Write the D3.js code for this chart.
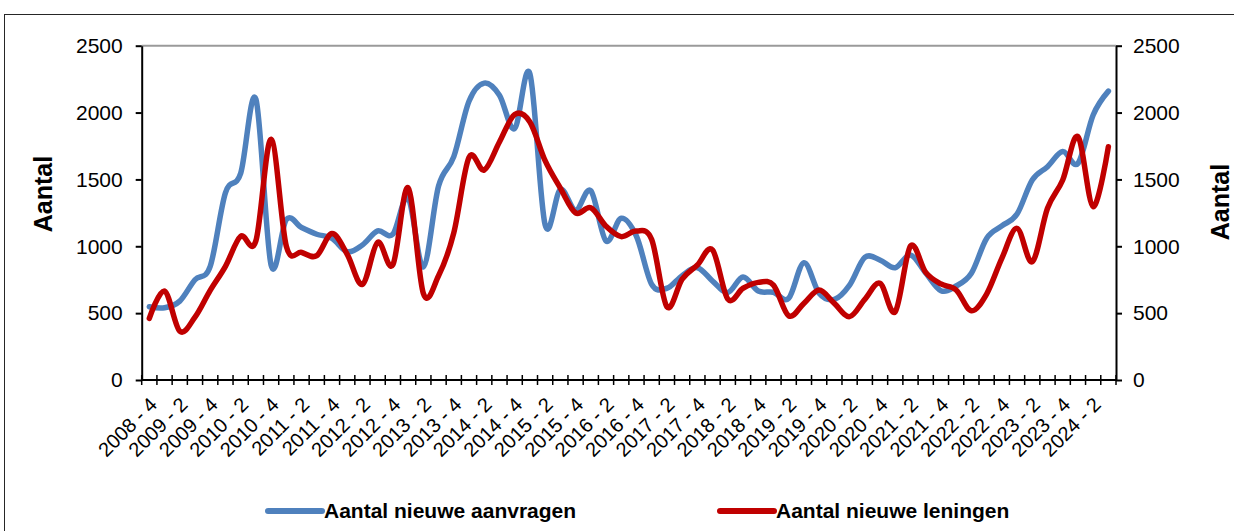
<!DOCTYPE html>
<html><head><meta charset="utf-8">
<script src="https://cdn.jsdelivr.net/npm/d3@7"></script>
<style>body{margin:0;background:#fff}svg{display:block}text{font-family:"Liberation Sans",Arial,sans-serif;fill:#000}</style>
</head><body><svg id="c" width="1234" height="531"></svg>
<script>
const categories = [
"2008 - 4",
"2009 - 1","2009 - 2","2009 - 3","2009 - 4",
"2010 - 1","2010 - 2","2010 - 3","2010 - 4",
"2011 - 1","2011 - 2","2011 - 3","2011 - 4",
"2012 - 1","2012 - 2","2012 - 3","2012 - 4",
"2013 - 1","2013 - 2","2013 - 3","2013 - 4",
"2014 - 1","2014 - 2","2014 - 3","2014 - 4",
"2015 - 1","2015 - 2","2015 - 3","2015 - 4",
"2016 - 1","2016 - 2","2016 - 3","2016 - 4",
"2017 - 1","2017 - 2","2017 - 3","2017 - 4",
"2018 - 1","2018 - 2","2018 - 3","2018 - 4",
"2019 - 1","2019 - 2","2019 - 3","2019 - 4",
"2020 - 1","2020 - 2","2020 - 3","2020 - 4",
"2021 - 1","2021 - 2","2021 - 3","2021 - 4",
"2022 - 1","2022 - 2","2022 - 3","2022 - 4",
"2023 - 1","2023 - 2","2023 - 3","2023 - 4",
"2024 - 1","2024 - 2","2024 - 3"];

const aanvragen = [548,540,590,750,850,1400,1545,2100,860,1200,1140,1090,1060,960,1010,1115,1090,1360,845,1450,1670,2085,2220,2130,1880,2290,1160,1425,1270,1415,1040,1210,1075,715,686,780,840,740,655,770,665,656,611,877,648,603,710,917,897,840,935,800,668,703,798,1059,1152,1241,1496,1595,1708,1620,1982,2160];

const leningen = [461,665,365,470,670,850,1075,1040,1800,1000,955,930,1095,940,715,1030,862,1437,648,780,1100,1665,1570,1780,1985,1930,1640,1435,1250,1288,1150,1072,1115,1050,548,755,860,972,605,686,730,710,480,573,673,573,474,603,723,511,1002,805,718,673,518,643,910,1134,885,1284,1496,1820,1296,1745];

const yTicks = [0,500,1000,1500,2000,2500];
const seriesNames = ["Aantal nieuwe aanvragen","Aantal nieuwe leningen"];
const seriesColors = ["#4F81BD","#C00000"];
const axisTitle = "Aantal";

const svg = d3.select("#c");
const m = {left:141.7, right:1116, top:45.7, bottom:380};

// outer frame
svg.append("rect").attr("x",4.5).attr("y",14.5).attr("width",1300).attr("height",600)
  .attr("fill","none").attr("stroke","#262626").attr("stroke-width",1);

const x = d3.scaleBand().domain(categories).range([m.left, m.right]);
const y = d3.scaleLinear().domain([0,2500]).range([m.bottom, m.top]);
const cx = c => x(c) + x.bandwidth()/2;

// top border line of plot area
svg.append("line").attr("x1",m.left).attr("x2",m.right).attr("y1",y(2500)).attr("y2",y(2500))
  .attr("stroke","#9a9a9a").attr("stroke-width",2);

// left axis
const fmt = d3.format("d");
const gL = svg.append("g").attr("transform",`translate(${m.left},0)`)
  .call(d3.axisLeft(y).tickValues(yTicks).tickFormat(fmt).tickSize(6).tickPadding(13).tickSizeOuter(0));
// right axis
const gR = svg.append("g").attr("transform",`translate(${m.right},0)`)
  .call(d3.axisRight(y).tickValues(yTicks).tickFormat(fmt).tickSize(6).tickPadding(11).tickSizeOuter(0));
[gL,gR].forEach(g=>{
  g.select(".domain").attr("stroke","#000").attr("stroke-width",2);
  g.selectAll(".tick line").attr("stroke","#000").attr("stroke-width",2);
  g.selectAll(".tick text").attr("font-size",21).attr("fill","#000")
    .style("font-family",'"Liberation Sans",Arial,sans-serif');
});

// x axis
const bounds = d3.range(categories.length+1);
const xb = d3.scaleLinear().domain([0,categories.length]).range([m.left,m.right]);
const gX = svg.append("g");
gX.append("line").attr("x1",m.left).attr("x2",m.right).attr("y1",m.bottom).attr("y2",m.bottom)
  .attr("stroke","#000").attr("stroke-width",2);
gX.selectAll("line.t").data(bounds).join("line").attr("class","t")
  .attr("x1",d=>xb(d)).attr("x2",d=>xb(d)).attr("y1",m.bottom-5).attr("y2",m.bottom+5)
  .attr("stroke","#000").attr("stroke-width",1.5);
gX.selectAll("text").data(categories.filter((c,i)=>i%2===0)).join("text")
  .attr("text-anchor","end").attr("font-size",20)
  .attr("transform",d=>`translate(${cx(d)+9},${m.bottom+26}) rotate(-45)`)
  .text(d=>d);

// lines
const line = d3.line().x((d,i)=>cx(categories[i])).y(d=>y(d)).curve(d3.curveCardinal.tension(0));
[aanvragen, leningen].forEach((s,k)=>{
  svg.append("path").datum(s).attr("d",line).attr("fill","none")
    .attr("stroke",seriesColors[k]).attr("stroke-width",5.5)
    .attr("stroke-linejoin","round").attr("stroke-linecap","round");
});

// axis titles
svg.append("text").attr("transform","translate(52,194) rotate(-90)").attr("text-anchor","middle")
  .attr("font-size",25).attr("font-weight","bold").text(axisTitle);
svg.append("text").attr("transform","translate(1229,202) rotate(-90)").attr("text-anchor","middle")
  .attr("font-size",25).attr("font-weight","bold").text(axisTitle);

// legend
const legX = [268, 720];
seriesNames.forEach((n,k)=>{
  const g = svg.append("g");
  g.append("line").attr("x1",legX[k]).attr("x2",legX[k]+54).attr("y1",511).attr("y2",511)
    .attr("stroke",seriesColors[k]).attr("stroke-width",6).attr("stroke-linecap","round");
  g.append("text").attr("x",legX[k]+56).attr("y",518).attr("font-size",21).attr("font-weight","bold").text(n);
});
</script></body></html>
